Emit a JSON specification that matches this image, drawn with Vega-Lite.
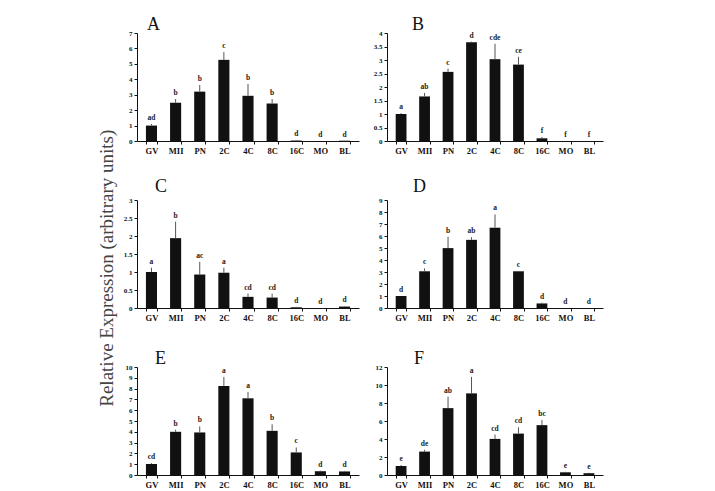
{
  "$schema": "https://vega.github.io/schema/vega-lite/v6.json",
  "background": "white",
  "padding": {"left": 98, "top": 16, "right": 5, "bottom": 0},
  "title": {"text": "Relative Expression (arbitrary units)", "orient": "left", "anchor": "middle", "font": "Liberation Serif", "fontSize": 19, "fontWeight": "normal", "color": "#444", "offset": 6, "dx": -16},
  "columns": 2,
  "spacing": {"row": 59, "column": 28},
  "bounds": "flush",
  "align": "all",
  "datasets": {
    "d": [
      {"panel": "A", "stage": "GV", "value": 1.0, "upper": 1.1, "letter": "ad"},
      {"panel": "A", "stage": "MII", "value": 2.48, "upper": 2.72, "letter": "b"},
      {"panel": "A", "stage": "PN", "value": 3.2, "upper": 3.63, "letter": "b"},
      {"panel": "A", "stage": "2C", "value": 5.26, "upper": 5.76, "letter": "c"},
      {"panel": "A", "stage": "4C", "value": 2.93, "upper": 3.7, "letter": "b"},
      {"panel": "A", "stage": "8C", "value": 2.43, "upper": 2.72, "letter": "b"},
      {"panel": "A", "stage": "16C", "value": 0.03, "upper": 0.05, "letter": "d"},
      {"panel": "A", "stage": "MO", "value": 0.0, "upper": 0.0, "letter": "d"},
      {"panel": "A", "stage": "BL", "value": 0.02, "upper": 0.03, "letter": "d"},
      {"panel": "B", "stage": "GV", "value": 1.0, "upper": 1.03, "letter": "a"},
      {"panel": "B", "stage": "MII", "value": 1.65, "upper": 1.78, "letter": "ab"},
      {"panel": "B", "stage": "PN", "value": 2.56, "upper": 2.68, "letter": "c"},
      {"panel": "B", "stage": "2C", "value": 3.66, "upper": 3.68, "letter": "d"},
      {"panel": "B", "stage": "4C", "value": 3.03, "upper": 3.6, "letter": "cde"},
      {"panel": "B", "stage": "8C", "value": 2.83, "upper": 3.12, "letter": "ce"},
      {"panel": "B", "stage": "16C", "value": 0.1, "upper": 0.15, "letter": "f"},
      {"panel": "B", "stage": "MO", "value": 0.0, "upper": 0.0, "letter": "f"},
      {"panel": "B", "stage": "BL", "value": 0.0, "upper": 0.0, "letter": "f"},
      {"panel": "C", "stage": "GV", "value": 1.0, "upper": 1.12, "letter": "a"},
      {"panel": "C", "stage": "MII", "value": 1.94, "upper": 2.4, "letter": "b"},
      {"panel": "C", "stage": "PN", "value": 0.93, "upper": 1.28, "letter": "ac"},
      {"panel": "C", "stage": "2C", "value": 0.98, "upper": 1.12, "letter": "a"},
      {"panel": "C", "stage": "4C", "value": 0.31, "upper": 0.4, "letter": "cd"},
      {"panel": "C", "stage": "8C", "value": 0.29, "upper": 0.4, "letter": "cd"},
      {"panel": "C", "stage": "16C", "value": 0.02, "upper": 0.03, "letter": "d"},
      {"panel": "C", "stage": "MO", "value": 0.0, "upper": 0.0, "letter": "d"},
      {"panel": "C", "stage": "BL", "value": 0.04, "upper": 0.05, "letter": "d"},
      {"panel": "D", "stage": "GV", "value": 1.0, "upper": 1.0, "letter": "d"},
      {"panel": "D", "stage": "MII", "value": 3.06, "upper": 3.3, "letter": "c"},
      {"panel": "D", "stage": "PN", "value": 4.99, "upper": 5.93, "letter": "b"},
      {"panel": "D", "stage": "2C", "value": 5.68, "upper": 5.9, "letter": "ab"},
      {"panel": "D", "stage": "4C", "value": 6.69, "upper": 7.8, "letter": "a"},
      {"panel": "D", "stage": "8C", "value": 3.06, "upper": 3.06, "letter": "c"},
      {"panel": "D", "stage": "16C", "value": 0.38, "upper": 0.45, "letter": "d"},
      {"panel": "D", "stage": "MO", "value": 0.0, "upper": 0.0, "letter": "d"},
      {"panel": "D", "stage": "BL", "value": 0.0, "upper": 0.0, "letter": "d"},
      {"panel": "E", "stage": "GV", "value": 1.02, "upper": 1.1, "letter": "cd"},
      {"panel": "E", "stage": "MII", "value": 4.0, "upper": 4.2, "letter": "b"},
      {"panel": "E", "stage": "PN", "value": 3.94, "upper": 4.5, "letter": "b"},
      {"panel": "E", "stage": "2C", "value": 8.25, "upper": 9.08, "letter": "a"},
      {"panel": "E", "stage": "4C", "value": 7.1, "upper": 7.7, "letter": "a"},
      {"panel": "E", "stage": "8C", "value": 4.09, "upper": 4.7, "letter": "b"},
      {"panel": "E", "stage": "16C", "value": 2.09, "upper": 2.55, "letter": "c"},
      {"panel": "E", "stage": "MO", "value": 0.35, "upper": 0.4, "letter": "d"},
      {"panel": "E", "stage": "BL", "value": 0.33, "upper": 0.38, "letter": "d"},
      {"panel": "F", "stage": "GV", "value": 1.0, "upper": 1.1, "letter": "e"},
      {"panel": "F", "stage": "MII", "value": 2.6, "upper": 2.8, "letter": "de"},
      {"panel": "F", "stage": "PN", "value": 7.43, "upper": 8.7, "letter": "ab"},
      {"panel": "F", "stage": "2C", "value": 9.07, "upper": 10.9, "letter": "a"},
      {"panel": "F", "stage": "4C", "value": 4.01, "upper": 4.5, "letter": "cd"},
      {"panel": "F", "stage": "8C", "value": 4.6, "upper": 5.3, "letter": "cd"},
      {"panel": "F", "stage": "16C", "value": 5.54, "upper": 6.1, "letter": "bc"},
      {"panel": "F", "stage": "MO", "value": 0.3, "upper": 0.35, "letter": "e"},
      {"panel": "F", "stage": "BL", "value": 0.2, "upper": 0.25, "letter": "e"}
    ]
  },
  "concat": [
    {
      "title": {"text": "A", "anchor": "start", "frame": "group", "dx": 10, "offset": -5},
      "width": 222, "height": 108,
      "data": {"name": "d"},
      "transform": [{"filter": "datum.panel == 'A'"}],
      "encoding": {
        "x": {"field": "stage", "type": "nominal", "sort": null, "scale": {"paddingInner": 0.54, "paddingOuter": 0.37}},
        "y": {"field": "value", "type": "quantitative", "scale": {"domain": [0, 7], "nice": false}, "axis": {"values": [0, 1, 2, 3, 4, 5, 6, 7]}}
      },
      "layer": [
        {"mark": {"type": "bar", "color": "#111"}},
        {"mark": {"type": "rule", "color": "#555"}, "encoding": {"y2": {"field": "upper"}}},
        {"mark": {"type": "text", "dy": -2, "baseline": "bottom", "font": "Liberation Serif", "fontSize": 7.5, "fontWeight": "bold", "color": "#222"}, "encoding": {"y": {"field": "upper", "type": "quantitative"}, "text": {"field": "letter"}}}
      ]
    },
    {
      "title": {"text": "B", "anchor": "start", "frame": "group", "dx": 25, "offset": -5},
      "width": 216, "height": 108,
      "data": {"name": "d"},
      "transform": [{"filter": "datum.panel == 'B'"}],
      "encoding": {
        "x": {"field": "stage", "type": "nominal", "sort": null, "scale": {"paddingInner": 0.54, "paddingOuter": 0.37}},
        "y": {"field": "value", "type": "quantitative", "scale": {"domain": [0, 4], "nice": false}, "axis": {"values": [0, 0.5, 1, 1.5, 2, 2.5, 3, 3.5, 4]}}
      },
      "layer": [
        {"mark": {"type": "bar", "color": "#111"}},
        {"mark": {"type": "rule", "color": "#555"}, "encoding": {"y2": {"field": "upper"}}},
        {"mark": {"type": "text", "dy": -2, "baseline": "bottom", "font": "Liberation Serif", "fontSize": 7.5, "fontWeight": "bold", "color": "#222"}, "encoding": {"y": {"field": "upper", "type": "quantitative"}, "text": {"field": "letter"}}}
      ]
    },
    {
      "title": {"text": "C", "anchor": "start", "frame": "group", "dx": 18, "offset": 0},
      "width": 222, "height": 108,
      "data": {"name": "d"},
      "transform": [{"filter": "datum.panel == 'C'"}],
      "encoding": {
        "x": {"field": "stage", "type": "nominal", "sort": null, "scale": {"paddingInner": 0.54, "paddingOuter": 0.37}},
        "y": {"field": "value", "type": "quantitative", "scale": {"domain": [0, 3], "nice": false}, "axis": {"values": [0, 0.5, 1, 1.5, 2, 2.5, 3]}}
      },
      "layer": [
        {"mark": {"type": "bar", "color": "#111"}},
        {"mark": {"type": "rule", "color": "#555"}, "encoding": {"y2": {"field": "upper"}}},
        {"mark": {"type": "text", "dy": -2, "baseline": "bottom", "font": "Liberation Serif", "fontSize": 7.5, "fontWeight": "bold", "color": "#222"}, "encoding": {"y": {"field": "upper", "type": "quantitative"}, "text": {"field": "letter"}}}
      ]
    },
    {
      "title": {"text": "D", "anchor": "start", "frame": "group", "dx": 26, "offset": 0},
      "width": 216, "height": 108,
      "data": {"name": "d"},
      "transform": [{"filter": "datum.panel == 'D'"}],
      "encoding": {
        "x": {"field": "stage", "type": "nominal", "sort": null, "scale": {"paddingInner": 0.54, "paddingOuter": 0.37}},
        "y": {"field": "value", "type": "quantitative", "scale": {"domain": [0, 9], "nice": false}, "axis": {"values": [0, 1, 2, 3, 4, 5, 6, 7, 8, 9]}}
      },
      "layer": [
        {"mark": {"type": "bar", "color": "#111"}},
        {"mark": {"type": "rule", "color": "#555"}, "encoding": {"y2": {"field": "upper"}}},
        {"mark": {"type": "text", "dy": -2, "baseline": "bottom", "font": "Liberation Serif", "fontSize": 7.5, "fontWeight": "bold", "color": "#222"}, "encoding": {"y": {"field": "upper", "type": "quantitative"}, "text": {"field": "letter"}}}
      ]
    },
    {
      "title": {"text": "E", "anchor": "start", "frame": "group", "dx": 18, "offset": -5},
      "width": 222, "height": 108,
      "data": {"name": "d"},
      "transform": [{"filter": "datum.panel == 'E'"}],
      "encoding": {
        "x": {"field": "stage", "type": "nominal", "sort": null, "scale": {"paddingInner": 0.54, "paddingOuter": 0.37}},
        "y": {"field": "value", "type": "quantitative", "scale": {"domain": [0, 10], "nice": false}, "axis": {"values": [0, 1, 2, 3, 4, 5, 6, 7, 8, 9, 10]}}
      },
      "layer": [
        {"mark": {"type": "bar", "color": "#111"}},
        {"mark": {"type": "rule", "color": "#555"}, "encoding": {"y2": {"field": "upper"}}},
        {"mark": {"type": "text", "dy": -2, "baseline": "bottom", "font": "Liberation Serif", "fontSize": 7.5, "fontWeight": "bold", "color": "#222"}, "encoding": {"y": {"field": "upper", "type": "quantitative"}, "text": {"field": "letter"}}}
      ]
    },
    {
      "title": {"text": "F", "anchor": "start", "frame": "group", "dx": 27, "offset": -5},
      "width": 216, "height": 108,
      "data": {"name": "d"},
      "transform": [{"filter": "datum.panel == 'F'"}],
      "encoding": {
        "x": {"field": "stage", "type": "nominal", "sort": null, "scale": {"paddingInner": 0.54, "paddingOuter": 0.37}},
        "y": {"field": "value", "type": "quantitative", "scale": {"domain": [0, 12], "nice": false}, "axis": {"values": [0, 2, 4, 6, 8, 10, 12]}}
      },
      "layer": [
        {"mark": {"type": "bar", "color": "#111"}},
        {"mark": {"type": "rule", "color": "#555"}, "encoding": {"y2": {"field": "upper"}}},
        {"mark": {"type": "text", "dy": -2, "baseline": "bottom", "font": "Liberation Serif", "fontSize": 7.5, "fontWeight": "bold", "color": "#222"}, "encoding": {"y": {"field": "upper", "type": "quantitative"}, "text": {"field": "letter"}}}
      ]
    }
  ],
  "config": {
    "view": {"stroke": null},
    "title": {"font": "Liberation Serif", "fontSize": 18, "fontWeight": "normal", "color": "#111"},
    "axis": {"title": null, "grid": false, "labelFont": "Liberation Serif", "labelFontWeight": "bold", "labelColor": "#111", "domainColor": "#111", "tickColor": "#111", "domainWidth": 1, "tickWidth": 1},
    "axisX": {"labelFontSize": 8.5, "labelAngle": 0, "tickBand": "extent", "tickSize": 3, "labelPadding": 2},
    "axisY": {"labelFontSize": 7, "tickSize": 3, "labelPadding": 2, "labelOverlap": false, "labelExpr": "datum.value + ''"}
  }
}
